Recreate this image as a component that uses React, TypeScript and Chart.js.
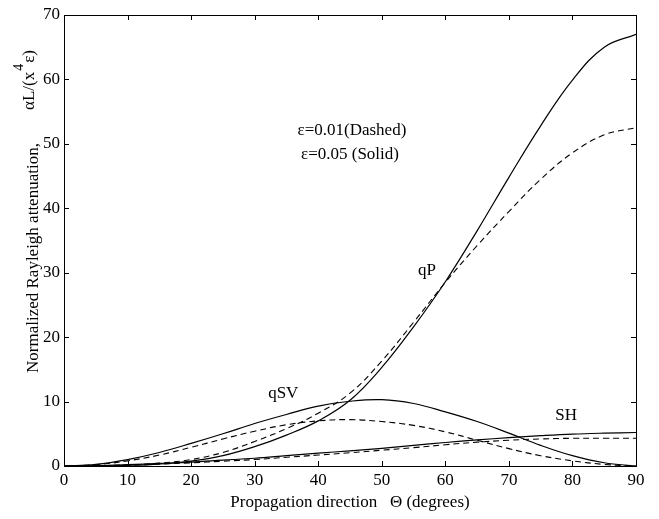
import React, { useEffect, useRef } from "react";
import { Chart, registerables } from "chart.js";

Chart.register(...registerables);

const angles = [0, 5, 10, 15, 20, 25, 30, 35, 40, 45, 50, 55, 60, 65, 70, 75, 80, 85, 90];

const qPSolid = [0, 0.02, 0.1, 0.3, 0.75, 1.6, 3.0, 4.8, 7.0, 10.2, 15.3, 21.6, 28.6, 36.5, 44.8, 52.8, 59.9, 65.0, 67.0];
const qPDashed = [0, 0.03, 0.15, 0.45, 1.0, 2.1, 3.8, 5.8, 8.2, 11.3, 16.3, 22.3, 28.5, 34.2, 39.5, 44.5, 48.6, 51.4, 52.5];
const qSVSolid = [0, 0.25, 1.0, 2.1, 3.5, 5.0, 6.6, 8.0, 9.3, 10.05, 10.3, 9.7, 8.4, 6.9, 5.1, 3.2, 1.6, 0.5, 0];
const qSVDashed = [0, 0.2, 0.8, 1.7, 2.9, 4.2, 5.4, 6.4, 7.0, 7.2, 6.9, 6.3, 5.3, 4.0, 2.7, 1.6, 0.8, 0.25, 0];
const shSolid = [0, 0.05, 0.2, 0.4, 0.6, 0.9, 1.2, 1.6, 2.0, 2.35, 2.75, 3.2, 3.65, 4.05, 4.4, 4.7, 4.95, 5.1, 5.2];
const shDashed = [0, 0.04, 0.15, 0.3, 0.5, 0.75, 1.0, 1.35, 1.7, 2.05, 2.45, 2.85, 3.3, 3.7, 4.0, 4.2, 4.3, 4.3, 4.3];

const xTicks = [0, 10, 20, 30, 40, 50, 60, 70, 80, 90];
const yTicks = [0, 10, 20, 30, 40, 50, 60, 70];

const annotations = [
  { text: "ε=0.01(Dashed)", x: 45.3, y: 52.0 },
  { text: "ε=0.05 (Solid)", x: 45.0, y: 48.3 },
  { text: "qP", x: 57.1, y: 30.4 },
  { text: "qSV", x: 34.5, y: 11.3 },
  { text: "SH", x: 79.0, y: 7.9 },
];

const yTitleMain = "Normalized Rayleigh attenuation,";
const yTitleA = "αL/(x";
const yTitleSup = "4";
const yTitleB = "ε)";
const xTitle = "Propagation direction   Θ (degrees)";

const FONT = "'Liberation Serif', 'Times New Roman', serif";

const pts = (vals: number[]) => angles.map((a, i) => ({ x: a, y: vals[i] }));

const framePlugin = {
  id: "frame",
  afterDraw(chart: any) {
    const { ctx, chartArea } = chart;
    const { left, right, top, bottom } = chartArea;
    const xs = chart.scales.x;
    const ys = chart.scales.y;
    ctx.save();
    ctx.strokeStyle = "#000";
    ctx.lineWidth = 1;
    ctx.strokeRect(Math.round(left) + 0.5, Math.round(top) + 0.5, Math.round(right - left), Math.round(bottom - top));
    const tl = 5;
    ctx.beginPath();
    xTicks.forEach((v) => {
      const px = Math.round(xs.getPixelForValue(v)) + 0.5;
      ctx.moveTo(px, bottom);
      ctx.lineTo(px, bottom - tl);
      ctx.moveTo(px, top);
      ctx.lineTo(px, top + tl);
    });
    yTicks.forEach((v) => {
      const py = Math.round(ys.getPixelForValue(v)) + 0.5;
      ctx.moveTo(left, py);
      ctx.lineTo(left + tl, py);
      ctx.moveTo(right, py);
      ctx.lineTo(right - tl, py);
    });
    ctx.stroke();

    ctx.fillStyle = "#000";
    ctx.font = `17px ${FONT}`;
    ctx.textAlign = "center";
    ctx.textBaseline = "middle";
    annotations.forEach((a) => {
      ctx.fillText(a.text, xs.getPixelForValue(a.x), ys.getPixelForValue(a.y));
    });

    ctx.save();
    ctx.translate(38, 373);
    ctx.rotate(-Math.PI / 2);
    ctx.textAlign = "left";
    ctx.textBaseline = "alphabetic";
    ctx.fillText(yTitleMain, 0, 0);
    ctx.restore();

    ctx.save();
    ctx.translate(34, 110);
    ctx.rotate(-Math.PI / 2);
    ctx.textAlign = "left";
    ctx.textBaseline = "alphabetic";
    ctx.fillText(yTitleA, 0, 0);
    const wA = ctx.measureText(yTitleA).width;
    ctx.font = `14px ${FONT}`;
    ctx.fillText(yTitleSup, wA + 1, -11);
    const wS = ctx.measureText(yTitleSup).width;
    ctx.font = `17px ${FONT}`;
    ctx.fillText(yTitleB, wA + wS + 2, 0);
    ctx.restore();

    ctx.restore();
  },
};

export default function App() {
  const ref = useRef<HTMLCanvasElement>(null);
  useEffect(() => {
    if (!ref.current) return;
    const solid = { borderColor: "#000", borderWidth: 1.2, pointRadius: 0, fill: false, tension: 0.4 };
    const dashed = { ...solid, borderWidth: 1.1, borderDash: [6, 4] };
    const chart = new Chart(ref.current, {
      type: "line",
      data: {
        datasets: [
          { label: "qP ε=0.05", data: pts(qPSolid), ...solid },
          { label: "qP ε=0.01", data: pts(qPDashed), ...dashed },
          { label: "qSV ε=0.05", data: pts(qSVSolid), ...solid },
          { label: "qSV ε=0.01", data: pts(qSVDashed), ...dashed },
          { label: "SH ε=0.05", data: pts(shSolid), ...solid },
          { label: "SH ε=0.01", data: pts(shDashed), ...dashed },
        ] as any,
      },
      options: {
        animation: false,
        responsive: false,
        maintainAspectRatio: false,
        layout: { padding: { left: 0, top: 15, right: 23, bottom: 0 } },
        plugins: { legend: { display: false }, tooltip: { enabled: false }, title: { display: false } },
        scales: {
          x: {
            type: "linear",
            min: 0,
            max: 90,
            afterFit: (s: any) => { s.height = 53; },
            afterBuildTicks: (s: any) => { s.ticks = xTicks.map((v) => ({ value: v })); },
            grid: { display: false, drawTicks: false },
            border: { display: false },
            ticks: { color: "#000", font: { family: FONT, size: 17 }, padding: 4, maxRotation: 0 },
            title: { display: true, text: xTitle, color: "#000", font: { family: FONT, size: 17 }, padding: { top: 0, bottom: 6 } },
          },
          y: {
            type: "linear",
            min: 0,
            max: 70,
            afterFit: (s: any) => { s.width = 64; },
            afterBuildTicks: (s: any) => { s.ticks = yTicks.map((v) => ({ value: v })); },
            grid: { display: false, drawTicks: false },
            border: { display: false },
            ticks: { color: "#000", font: { family: FONT, size: 17 }, padding: 4 },
          },
        },
      },
      plugins: [framePlugin],
    });
    return () => chart.destroy();
  }, []);
  return (
    <div style={{ position: "absolute", left: 0, top: 0, width: 659, height: 519, background: "#fff" }}>
      <canvas ref={ref} width={659} height={519} style={{ width: 659, height: 519, display: "block" }} />
    </div>
  );
}
